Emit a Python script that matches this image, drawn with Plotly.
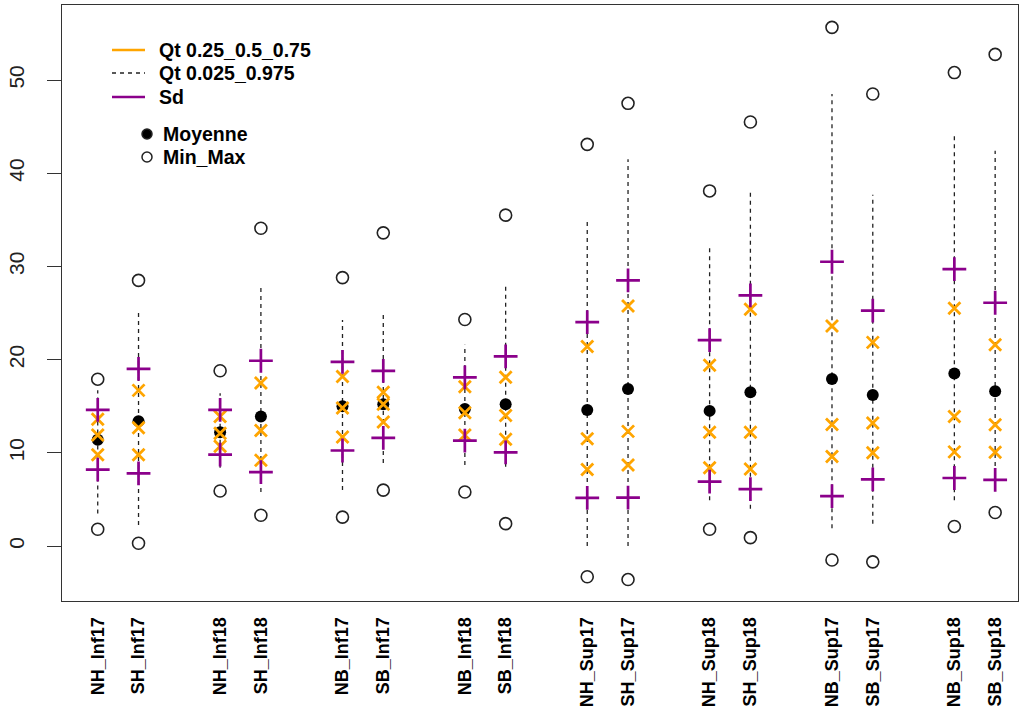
import plotly.graph_objects as go

categories = ["NH_Inf17", "SH_Inf17", "NH_Inf18", "SH_Inf18",
              "NB_Inf17", "SB_Inf17", "NB_Inf18", "SB_Inf18",
              "NH_Sup17", "SH_Sup17", "NH_Sup18", "SH_Sup18",
              "NB_Sup17", "SB_Sup17", "NB_Sup18", "SB_Sup18"]

mean_vals = [11.4, 13.4, 12.2, 13.9, 15.0, 15.2, 14.7, 15.2,
             14.6, 16.85, 14.5, 16.5, 17.93, 16.2, 18.5, 16.6]
sd_vals = [3.2, 5.6, 2.4, 5.98, 4.75, 3.6, 3.4, 5.15,
           9.43, 11.65, 7.6, 10.4, 12.57, 9.05, 11.2, 9.5]
q25_vals = [9.8, 9.8, 10.7, 9.2, 11.7, 13.3, 11.9, 11.45,
            8.2, 8.7, 8.4, 8.26, 9.6, 10.0, 10.1, 10.05]
q50_vals = [11.9, 12.7, 12.1, 12.4, 14.8, 15.2, 14.3, 14.0,
            11.5, 12.3, 12.2, 12.2, 13.05, 13.2, 13.9, 13.0]
q75_vals = [13.6, 16.7, 13.9, 17.5, 18.2, 16.5, 17.1, 18.1,
            21.4, 25.75, 19.4, 25.4, 23.6, 21.85, 25.5, 21.6]
q025_vals = [3.5, 2.25, 8.4, 5.8, 6.0, 8.9, 8.7, 8.5,
             0.0, 0.0, 4.9, 4.0, 1.9, 2.4, 4.9, 6.0]
q975_vals = [16.7, 25.4, 16.4, 27.7, 24.25, 24.8, 21.6, 28.2,
             35.2, 41.5, 32.2, 37.9, 48.5, 37.7, 44.1, 42.4]
min_vals = [1.8, 0.3, 5.9, 3.3, 3.1, 6.0, 5.8, 2.4,
            -3.3, -3.6, 1.8, 0.9, -1.5, -1.7, 2.1, 3.6]
max_vals = [17.9, 28.5, 18.8, 34.1, 28.8, 33.6, 24.3, 35.5,
            43.1, 47.5, 38.1, 45.5, 55.65, 48.5, 50.8, 52.75]

y_ticks = [0, 10, 20, 30, 40, 50]

legend_line_labels = ["Qt 0.25_0.5_0.75", "Qt 0.025_0.975", "Sd"]
legend_point_labels = ["Moyenne", "Min_Max"]

# pairs of categories separated by an empty slot: 1,2, 4,5, 7,8, ...
pos = [i + i // 2 + 1 for i in range(len(categories))]

ORANGE = "#FFA500"
PURPLE = "#8B008B"
DARK = "#222222"
FONT = "Liberation Sans"

W, H = 1020, 710
ML, MR, MT, MB = 62, 2, 5, 109
PW, PH = W - ML - MR, H - MT - MB


def px(xp):
    return (xp - ML) / PW


def py(yp):
    return (H - MB - yp) / PH


fig = go.Figure()

# dashed 2.5%-97.5% quantile lines
lx, ly = [], []
for p, lo, hi in zip(pos, q025_vals, q975_vals):
    lx += [p, p, None]
    ly += [lo, hi, None]
fig.add_trace(go.Scatter(x=lx, y=ly, mode="lines", showlegend=False,
                         line=dict(color=DARK, width=1.3, dash="4px,4px"),
                         hoverinfo="skip"))

# min / max
fig.add_trace(go.Scatter(x=pos + pos, y=min_vals + max_vals, mode="markers",
                         showlegend=False,
                         marker=dict(symbol="circle-open", size=12, color=DARK,
                                     line=dict(width=1.6, color=DARK))))
# mean
fig.add_trace(go.Scatter(x=pos, y=mean_vals, mode="markers", showlegend=False,
                         marker=dict(symbol="circle", size=12, color="black")))
# quartiles
fig.add_trace(go.Scatter(x=pos * 3, y=q25_vals + q50_vals + q75_vals, mode="markers",
                         showlegend=False,
                         marker=dict(symbol="x-thin", size=12, color=ORANGE,
                                     line=dict(width=2.8, color=ORANGE))))
# mean +/- sd
sd_lo = [m - s for m, s in zip(mean_vals, sd_vals)]
sd_hi = [m + s for m, s in zip(mean_vals, sd_vals)]
fig.add_trace(go.Scatter(x=pos * 2, y=sd_lo + sd_hi, mode="markers",
                         showlegend=False,
                         marker=dict(symbol="cross-thin", size=17, color=PURPLE,
                                     line=dict(width=2.7, color=PURPLE))))

# ---- hand-drawn legend (R style, no box) ----
line_styles = [dict(color=ORANGE, width=2.5),
               dict(color=DARK, width=1.3, dash="4px,4px"),
               dict(color=PURPLE, width=2.5)]
line_rows = [50, 73, 97]
for lab, st, yr in zip(legend_line_labels, line_styles, line_rows):
    fig.add_shape(type="line", xref="paper", yref="paper",
                  x0=px(112), x1=px(145), y0=py(yr), y1=py(yr), line=st)
    fig.add_annotation(xref="paper", yref="paper", x=px(157), y=py(yr),
                       text=lab, showarrow=False, xanchor="left", yanchor="middle",
                       font=dict(family=FONT, size=19.5, weight="bold", color="black"))

point_rows = [134, 157]
point_fill = ["black", "white"]
for lab, fill, yr in zip(legend_point_labels, point_fill, point_rows):
    fig.add_shape(type="circle", xref="paper", yref="paper",
                  xsizemode="pixel", ysizemode="pixel",
                  xanchor=px(147), yanchor=py(yr),
                  x0=-5, x1=5, y0=-5, y1=5,
                  fillcolor=fill, line=dict(color=DARK, width=1.5))
    fig.add_annotation(xref="paper", yref="paper", x=px(161), y=py(yr),
                       text=lab, showarrow=False, xanchor="left", yanchor="middle",
                       font=dict(family=FONT, size=19.5, weight="bold", color="black"))

fig.update_layout(
    width=W, height=H,
    margin=dict(l=ML, r=MR, t=MT, b=MB, autoexpand=False),
    paper_bgcolor="white", plot_bgcolor="white",
    font=dict(family=FONT, color="black"),
    showlegend=False,
    xaxis=dict(range=[0.124, 23.56], tickmode="array", tickvals=pos,
               ticktext=categories, tickangle=-90, ticks="",
               tickfont=dict(family=FONT, size=18, weight="bold", color="black"),
               showline=True, mirror=True, linecolor="#333333", linewidth=1.3,
               showgrid=False, zeroline=False, ticklabelstandoff=8,
               automargin=False),
    yaxis=dict(range=[-5.9, 58.05], tickmode="array", tickvals=y_ticks,
               ticks="outside", ticklen=14, tickcolor="#333333", tickwidth=1.3,
               tickangle=-90, tickfont=dict(family=FONT, size=21, color=DARK),
               showline=True, mirror=True, linecolor="#333333", linewidth=1.3,
               showgrid=False, zeroline=False, ticklabelstandoff=14,
               automargin=False),
)

fig.write_html("out.html", config={"displayModeBar": False},
               post_script="document.body.style.margin='0';document.body.style.padding='0';")
